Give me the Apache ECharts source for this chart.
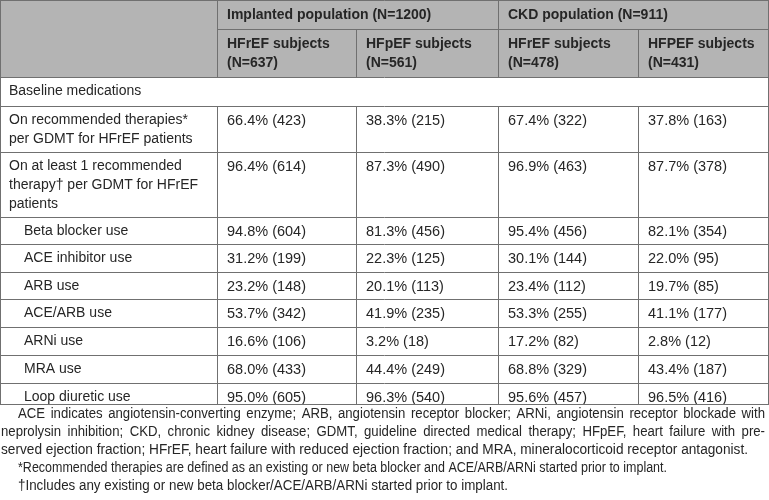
<!DOCTYPE html>
<html><head><meta charset="utf-8">
<script src="https://cdn.jsdelivr.net/npm/echarts@6/dist/echarts.min.js"></script>
<style>html,body{margin:0;padding:0;background:#fff}#c{width:769px;height:500px}</style>
</head><body><div id="c"></div><script>
// ---------- DATA ----------
var groupTitles = ["Implanted population (N=1200)", "CKD population (N=911)"];
var columnTitles = ["HFrEF subjects\n(N=637)", "HFpEF subjects\n(N=561)", "HFrEF subjects\n(N=478)", "HFPEF subjects\n(N=431)"];
var rowLabels = [
  "Baseline medications",
  "On recommended therapies*\nper GDMT for HFrEF patients",
  "On at least 1 recommended\ntherapy\u2020 per GDMT for HFrEF\npatients",
  "Beta blocker use",
  "ACE inhibitor use",
  "ARB use",
  "ACE/ARB use",
  "ARNi use",
  "MRA use",
  "Loop diuretic use"
];
var rowLevel = [0, 0, 0, 1, 1, 1, 1, 1, 1, 1];
var implHFrEFPct = [null, 66.4, 96.4, 94.8, 31.2, 23.2, 53.7, 16.6, 68.0, 95.0];
var implHFrEFN   = [null, 423, 614, 604, 199, 148, 342, 106, 433, 605];
var implHFpEFPct = [null, 38.3, 87.3, 81.3, 22.3, 20.1, 41.9, 3.2, 44.4, 96.3];
var implHFpEFN   = [null, 215, 490, 456, 125, 113, 235, 18, 249, 540];
var ckdHFrEFPct  = [null, 67.4, 96.9, 95.4, 30.1, 23.4, 53.3, 17.2, 68.8, 95.6];
var ckdHFrEFN    = [null, 322, 463, 456, 144, 112, 255, 82, 329, 457];
var ckdHFpEFPct  = [null, 37.8, 87.7, 82.1, 22.0, 19.7, 41.1, 2.8, 43.4, 96.5];
var ckdHFpEFN    = [null, 163, 378, 354, 95, 85, 177, 12, 187, 416];
var footnoteLines = [
  "ACE indicates angiotensin-converting enzyme; ARB, angiotensin receptor blocker; ARNi, angiotensin receptor blockade with",
  "neprolysin inhibition; CKD, chronic kidney disease; GDMT, guideline directed medical therapy; HFpEF, heart failure with pre-",
  "served ejection fraction; HFrEF, heart failure with reduced ejection fraction; and MRA, mineralocorticoid receptor antagonist.",
  "*Recommended therapies are defined as an existing or new beta blocker and ACE/ARB/ARNi started prior to implant.",
  "\u2020Includes any existing or new beta blocker/ACE/ARB/ARNi started prior to implant."
];

// ---------- LAYOUT / STYLE ----------
var colX = [0, 217, 356, 498, 638, 768];
var headerRow1 = 29, headerBottom = 77;
var rowTops = [77, 106, 152, 217, 244, 272, 299, 327, 355, 383];
var tableBottom = 404;
var lineH = 19;
var padX = 10, indentX = 15;
var fontFam = '"Liberation Sans", Arial, Helvetica, sans-serif';
var textColor = '#262626';
var lineColor = '#707070';
var headerFill = '#b4b4b4';
var footSize = 14;
var footTop = [414, 432, 450, 468, 486];
var footLeft = [18, 1, 1, 18, 18];
var footRight = [765, 765, 748, 667, 508];
var footJustify = [true, true, false, false, false];

var cols = [[implHFrEFPct, implHFrEFN], [implHFpEFPct, implHFpEFN], [ckdHFrEFPct, ckdHFrEFN], [ckdHFpEFPct, ckdHFpEFN]];
function fmt(p, n) { return p.toFixed(1) + '% (' + n + ')'; }

var els = [];
els.push({type: 'rect', shape: {x: 0, y: 0, width: colX[5], height: headerBottom}, style: {fill: headerFill}});

function txt(x, y, s, bold, size, sx) {
  var e = {type: 'text', x: x, y: y, style: {text: s, fill: textColor, font: (bold ? 'bold ' : '') + (size || 14) + 'px ' + fontFam, textVerticalAlign: 'top', lineHeight: lineH}};
  if (sx) e.scaleX = sx;
  els.push(e);
}
// headers
txt(colX[1] + padX, 15 - lineH / 2, groupTitles[0], true);
txt(colX[3] + padX, 15 - lineH / 2, groupTitles[1], true);
for (var c = 0; c < 4; c++) txt(colX[c + 1] + padX, 44 - lineH / 2, columnTitles[c], true);
// body
for (var r = 0; r < rowLabels.length; r++) {
  var y0 = rowTops[r] + 14.5 - lineH / 2;
  txt(colX[0] + 9 + rowLevel[r] * indentX, y0, rowLabels[r], false);
  for (var c2 = 0; c2 < 4; c2++) {
    var p = cols[c2][0][r], n = cols[c2][1][r];
    if (p != null) txt(colX[c2 + 1] + padX, y0, fmt(p, n), false, 14.5);
  }
}
// cover below table bottom (cropped last row)
els.push({type: 'rect', shape: {x: 0, y: tableBottom, width: 769, height: 6}, style: {fill: '#fff'}});

// lines
function hl(y, x1, x2) { els.push({type: 'line', shape: {x1: x1, y1: y + 0.5, x2: x2 + 1, y2: y + 0.5}, style: {stroke: lineColor, lineWidth: 1}}); }
function vl(x, y1, y2) { els.push({type: 'line', shape: {x1: x + 0.5, y1: y1, x2: x + 0.5, y2: y2 + 1}, style: {stroke: lineColor, lineWidth: 1}}); }
hl(0, 0, colX[5]);
hl(headerRow1, colX[1], colX[5]);
hl(headerBottom, 0, colX[5]);
for (var r2 = 1; r2 < rowTops.length; r2++) hl(rowTops[r2], 0, colX[5]);
hl(tableBottom, 0, colX[5]);
vl(colX[0], 0, tableBottom); vl(colX[5], 0, tableBottom);
[1, 3].forEach(function (i) { vl(colX[i], 0, headerBottom); vl(colX[i], rowTops[1], tableBottom); });
[2, 4].forEach(function (i) { vl(colX[i], headerRow1, headerBottom); vl(colX[i], rowTops[1], tableBottom); });

// footnotes: condensed via horizontal scale, first two lines justified
var cv = document.createElement('canvas').getContext('2d');
var footFont = footSize + 'px ' + fontFam;
cv.font = footFont;
var sxs = [];
footnoteLines.forEach(function (line, i) {
  if (!footJustify[i]) sxs.push((footRight[i] - footLeft[i]) / cv.measureText(line).width);
});
var sxMean = sxs.reduce(function (a, b) { return a + b; }, 0) / sxs.length;
footnoteLines.forEach(function (line, i) {
  var yTop = footTop[i] - lineH / 2;
  if (!footJustify[i]) {
    txt(footLeft[i], yTop, line, false, footSize, (footRight[i] - footLeft[i]) / cv.measureText(line).width);
    return;
  }
  var words = line.split(' ');
  var widths = words.map(function (w) { return cv.measureText(w).width * sxMean; });
  var total = widths.reduce(function (a, b) { return a + b; }, 0);
  var gap = (footRight[i] - footLeft[i] - total) / (words.length - 1);
  var x = footLeft[i];
  words.forEach(function (w, k) {
    txt(x, yTop, w, false, footSize, sxMean);
    x += widths[k] + gap;
  });
});

var chart = echarts.init(document.getElementById('c'), null, {renderer: 'canvas'});
chart.setOption({animation: false, backgroundColor: '#fff', graphic: {elements: els}});
</script></body></html>
